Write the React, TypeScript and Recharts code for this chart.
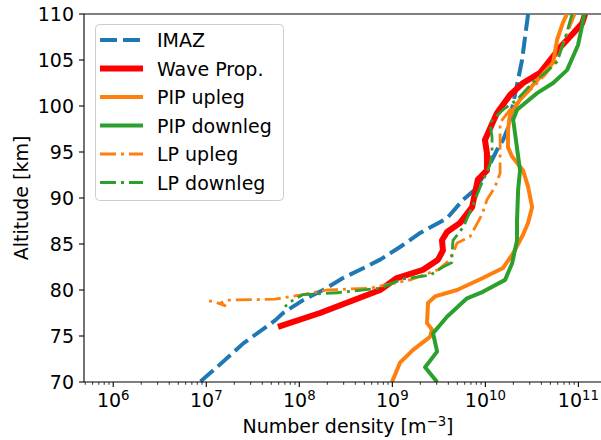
import React from 'react';
import { LineChart, Line, XAxis, YAxis, ReferenceLine, Legend } from 'recharts';

// altitude [km] vs number density [m^-3]
const IMAZ = [
  { alt: 110, n: 2.88e10 }, { alt: 105, n: 2.48e10 }, { alt: 101.2, n: 2.08e10 },
  { alt: 97.6, n: 1.75e10 }, { alt: 96.3, n: 1.55e10 }, { alt: 95.2, n: 1.33e10 },
  { alt: 93.0, n: 1.04e10 }, { alt: 90.9, n: 7.7e9 }, { alt: 89.8, n: 5.75e9 },
  { alt: 87.8, n: 3.87e9 }, { alt: 86.2, n: 1.99e9 }, { alt: 84.7, n: 1.22e9 },
  { alt: 83.3, n: 7.4e8 }, { alt: 82.2, n: 4.5e8 }, { alt: 81.3, n: 2.95e8 },
  { alt: 80.0, n: 1.8e8 }, { alt: 78.9, n: 1.1e8 }, { alt: 77.5, n: 6.7e7 },
  { alt: 76.7, n: 5.5e7 }, { alt: 74.2, n: 2.5e7 }, { alt: 71.6, n: 1.3e7 },
  { alt: 69.9, n: 8.3e6 },
];

const WAVE_PROP = [
  { alt: 110, n: 1.18e11 }, { alt: 109.0, n: 1.1e11 }, { alt: 107.9, n: 8.8e10 },
  { alt: 106.4, n: 6.4e10 }, { alt: 105.0, n: 4.97e10 }, { alt: 103.6, n: 3.87e10 },
  { alt: 102.5, n: 2.54e10 }, { alt: 101.2, n: 1.84e10 }, { alt: 99.2, n: 1.33e10 },
  { alt: 98.3, n: 1.21e10 }, { alt: 96.3, n: 9.9e9 }, { alt: 94.9, n: 1.04e10 },
  { alt: 93.0, n: 1.04e10 }, { alt: 92.0, n: 8.3e9 }, { alt: 89.0, n: 7.2e9 },
  { alt: 87.3, n: 5.35e9 }, { alt: 86.3, n: 3.87e9 }, { alt: 85.4, n: 3.42e9 },
  { alt: 84.3, n: 3.5e9 }, { alt: 83.3, n: 3.1e9 }, { alt: 82.2, n: 2.14e9 },
  { alt: 81.3, n: 1.12e9 }, { alt: 80.0, n: 7.4e8 }, { alt: 77.5, n: 1.67e8 },
  { alt: 76.0, n: 5.9e7 },
];

const PIP_UP = [
  { alt: 110, n: 7.55e10 }, { alt: 109.1, n: 6.84e10 }, { alt: 107.2, n: 5.9e10 },
  { alt: 104.7, n: 5.35e10 }, { alt: 102.3, n: 3.26e10 }, { alt: 100.7, n: 2.36e10 },
  { alt: 99.0, n: 1.84e10 }, { alt: 97.4, n: 1.75e10 }, { alt: 95.5, n: 1.75e10 },
  { alt: 94.5, n: 1.94e10 }, { alt: 93.0, n: 2.54e10 }, { alt: 91.2, n: 2.88e10 },
  { alt: 89.0, n: 3.18e10 }, { alt: 87.3, n: 2.88e10 }, { alt: 86.0, n: 2.54e10 },
  { alt: 84.0, n: 1.99e10 }, { alt: 82.4, n: 1.55e10 }, { alt: 81.3, n: 9.4e9 },
  { alt: 80.0, n: 4.96e9 }, { alt: 79.3, n: 2.88e9 }, { alt: 78.6, n: 2.42e9 },
  { alt: 76.4, n: 2.36e9 }, { alt: 75.7, n: 2.67e9 }, { alt: 74.9, n: 2.54e9 },
  { alt: 73.5, n: 1.67e9 }, { alt: 72.1, n: 1.21e9 }, { alt: 70.0, n: 9.9e8 },
];

const PIP_DOWN = [
  { alt: 110, n: 1.15e11 }, { alt: 108.8, n: 1.1e11 }, { alt: 106.6, n: 9.9e10 },
  { alt: 103.9, n: 7.55e10 }, { alt: 102.5, n: 5.35e10 }, { alt: 101.4, n: 3.6e10 },
  { alt: 99.6, n: 2.19e10 }, { alt: 98.5, n: 1.99e10 }, { alt: 97.1, n: 2.08e10 },
  { alt: 93.0, n: 2.36e10 }, { alt: 90.9, n: 2.25e10 }, { alt: 87.6, n: 2.19e10 },
  { alt: 85.4, n: 2.19e10 }, { alt: 82.9, n: 1.94e10 }, { alt: 81.1, n: 1.63e10 },
  { alt: 79.8, n: 9.4e9 }, { alt: 79.1, n: 6.35e9 }, { alt: 77.1, n: 3.87e9 },
  { alt: 75.3, n: 2.74e9 }, { alt: 73.3, n: 3.03e9 }, { alt: 71.6, n: 2.25e9 },
  { alt: 70.0, n: 3.03e9 },
];

const LP_UP = [
  { alt: 110, n: 9.2e10 }, { alt: 107.9, n: 7.55e10 }, { alt: 105.0, n: 5.9e10 },
  { alt: 103.4, n: 4.39e10 }, { alt: 101.7, n: 3.02e10 }, { alt: 99.6, n: 1.84e10 },
  { alt: 98.2, n: 1.44e10 }, { alt: 96.3, n: 1.44e10 }, { alt: 94.5, n: 1.44e10 },
  { alt: 92.7, n: 1.44e10 }, { alt: 91.2, n: 1.27e10 }, { alt: 89.8, n: 1.04e10 },
  { alt: 88.2, n: 9.2e9 }, { alt: 85.8, n: 6.84e9 }, { alt: 85.1, n: 4.96e9 },
  { alt: 84.0, n: 4.49e9 }, { alt: 83.0, n: 3.87e9 }, { alt: 82.2, n: 3.1e9 },
  { alt: 81.1, n: 1.55e9 }, { alt: 80.2, n: 5.75e8 }, { alt: 80.0, n: 1.99e8 },
  { alt: 79.5, n: 1.1e8 }, { alt: 79.0, n: 5.47e7 }, { alt: 78.9, n: 1.67e7 },
  { alt: 78.6, n: 1.44e7 }, { alt: 78.3, n: 1.59e7 }, { alt: 78.7, n: 1.24e7 },
  { alt: 78.9, n: 9.7e6 },
];

const LP_DOWN = [
  { alt: 110, n: 8.55e10 }, { alt: 107.7, n: 7.36e10 }, { alt: 104.8, n: 5.9e10 },
  { alt: 103.6, n: 4.39e10 }, { alt: 102.6, n: 3.26e10 }, { alt: 100.7, n: 2.19e10 },
  { alt: 99.6, n: 1.55e10 }, { alt: 98.2, n: 1.12e10 }, { alt: 96.6, n: 1.18e10 },
  { alt: 94.9, n: 1.18e10 }, { alt: 93.6, n: 1.12e10 }, { alt: 91.2, n: 8.8e9 },
  { alt: 89.0, n: 7.2e9 }, { alt: 86.8, n: 5.75e9 }, { alt: 85.4, n: 4.49e9 },
  { alt: 84.0, n: 4.38e9 }, { alt: 83.0, n: 4.38e9 }, { alt: 82.5, n: 3.5e9 },
  { alt: 81.6, n: 2.54e9 }, { alt: 81.2, n: 1.3e9 }, { alt: 80.2, n: 7.4e8 },
  { alt: 79.7, n: 2.54e8 }, { alt: 79.5, n: 1.1e8 }, { alt: 78.9, n: 8.55e7 },
  { alt: 78.2, n: 7.0e7 },
];

const X_DOMAIN = [4.85e5, 1.75e11];
const MAJOR_EXP = [6, 7, 8, 9, 10, 11];
const Y_TICKS = [70, 75, 80, 85, 90, 95, 100, 105, 110];

// major + minor ticks of the log axis
const X_TICKS: number[] = [];
[5, 6, 7, 8, 9, 10, 11].forEach((d) => {
  for (let k = 1; k <= 9; k++) {
    const v = k * Math.pow(10, d);
    if (v >= X_DOMAIN[0] && v <= X_DOMAIN[1]) X_TICKS.push(v);
  }
});

const SERIES = [
  { name: 'IMAZ', data: IMAZ, color: '#1f77b4', width: 4, dash: '17 6' },
  { name: 'Wave Prop.', data: WAVE_PROP, color: '#ff0000', width: 6, dash: undefined },
  { name: 'PIP upleg', data: PIP_UP, color: '#ff7f0e', width: 4, dash: undefined },
  { name: 'PIP downleg', data: PIP_DOWN, color: '#2ca02c', width: 4, dash: undefined },
  { name: 'LP upleg', data: LP_UP, color: '#ff7f0e', width: 2.8, dash: '16 5 3 5' },
  { name: 'LP downleg', data: LP_DOWN, color: '#2ca02c', width: 2.8, dash: '16 5 3 5' },
];

const XTick = (props: any) => {
  const { x, y, payload } = props;
  const lg = Math.log10(payload.value);
  const e = Math.round(lg);
  const major = Math.abs(lg - e) < 1e-6 && MAJOR_EXP.includes(e);
  return (
    <g>
      <line x1={x} x2={x} y1={y} y2={y + (major ? 5 : 2.8)} stroke="#000" strokeWidth={major ? 1.1 : 0.8} />
      {major && (
        <text x={x} y={y + 25} textAnchor="middle" fontSize={19} fill="#000">
          <tspan>10</tspan>
          <tspan dy={-7} fontSize={13.3}>{e}</tspan>
        </text>
      )}
    </g>
  );
};

const renderLegend = () => (
  <svg width={190} height={178} style={{ display: 'block' }}>
    <rect x={0.5} y={0.5} width={188} height={176} rx={4} fill="#fff" fillOpacity={0.8} stroke="#cccccc" strokeWidth={1} />
    {SERIES.map((s, i) => {
      const cy = 16 + i * 28.5;
      return (
        <g key={s.name}>
          <line x1={5} x2={48} y1={cy} y2={cy} stroke={s.color} strokeWidth={s.width} strokeDasharray={s.dash} />
          <text x={62} y={cy + 7} fontSize={19} fill="#000">{s.name}</text>
        </g>
      );
    })}
  </svg>
);

const YLabel = (props: any) => {
  const { viewBox } = props;
  const cy = viewBox.y + viewBox.height / 2;
  return (
    <text x={28} y={cy} transform={`rotate(-90, 28, ${cy})`} textAnchor="middle" fontSize={19} fill="#000">
      Altitude [km]
    </text>
  );
};

const XLabel = (props: any) => {
  const { viewBox } = props;
  return (
    <text x={viewBox.x + 264} y={viewBox.y + 51} textAnchor="middle" fontSize={19} fill="#000">
      <tspan>Number density [m</tspan>
      <tspan dy={-7} fontSize={13.3}>−3</tspan>
      <tspan dy={7}>]</tspan>
    </text>
  );
};

export default function App() {
  return (
    <div style={{ position: 'absolute', left: 0, top: 0, width: 601, height: 440, background: '#fff', fontFamily: 'DejaVu Sans', overflow: 'hidden' }}>
      <LineChart width={601} height={440} margin={{ top: 14, right: 0, bottom: 0, left: 0 }}>
        <XAxis
          dataKey="n"
          type="number"
          scale="log"
          domain={X_DOMAIN}
          allowDataOverflow
          ticks={X_TICKS}
          interval={0}
          height={58}
          tickSize={0}
          tickMargin={0}
          tickLine={false}
          tick={<XTick />}
          axisLine={{ stroke: '#000', strokeWidth: 1.1 }}
          label={<XLabel />}
        />
        <YAxis
          type="number"
          domain={[70, 110]}
          allowDataOverflow
          ticks={Y_TICKS}
          interval={0}
          width={84}
          tickSize={5}
          tickMargin={5}
          tick={{ fill: '#000', fontSize: 19 }}
          tickLine={{ stroke: '#000', strokeWidth: 1.1 }}
          axisLine={{ stroke: '#000', strokeWidth: 1.1 }}
          label={<YLabel />}
        />
        <ReferenceLine y={110} stroke="#000" strokeWidth={1.1} />
        {SERIES.map((s) => (
          <Line
            key={s.name}
            data={s.data}
            dataKey="alt"
            name={s.name}
            type="linear"
            stroke={s.color}
            strokeWidth={s.width}
            strokeDasharray={s.dash}
            strokeLinejoin="round"
            dot={false}
            activeDot={false}
            isAnimationActive={false}
          />
        ))}
        <Legend
          layout="vertical"
          align="center"
          verticalAlign="middle"
          content={renderLegend}
          wrapperStyle={{ left: 95, top: 24, width: 190, height: 178 }}
        />
      </LineChart>
    </div>
  );
}
